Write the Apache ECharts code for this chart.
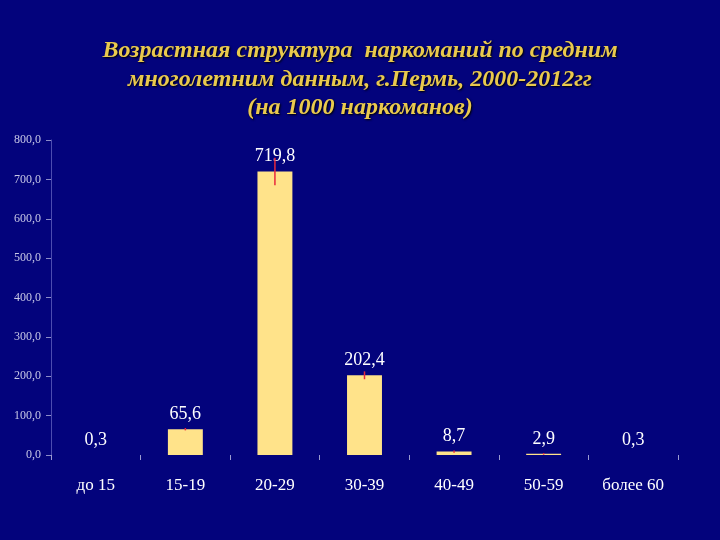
<!DOCTYPE html>
<html>
<head>
<meta charset="utf-8">
<script src="https://cdn.jsdelivr.net/npm/echarts@6/dist/echarts.min.js"></script>
<style>
  html, body { margin: 0; padding: 0; background: #03037c; }
  #chart { width: 720px; height: 540px; }
</style>
</head>
<body>
<div id="chart"></div>
<script>
// age groups and values per 1000 addicts
const categories = ['до 15', '15-19', '20-29', '30-39', '40-49', '50-59', 'более 60'];
const values = [0.3, 65.6, 719.8, 202.4, 8.7, 2.9, 0.3];
// error bar half-widths, estimated from the red marks
const errors = [0, 3, 35, 10, 3, 2, 0];
const titleLines = [
  'Возрастная структура  наркоманий по средним',
  'многолетним данным, г.Пермь, 2000-2012гг',
  '(на 1000 наркоманов)'
];

const fmt = v => v.toFixed(1).replace('.', ',');

const chart = echarts.init(document.getElementById('chart'));

chart.setOption({
  backgroundColor: '#03037c',
  animation: false,
  title: {
    text: titleLines.join('\n'),
    left: 'center',
    top: 32,
    textStyle: {
      fontFamily: 'Liberation Serif',
      fontStyle: 'italic',
      fontWeight: 'bold',
      fontSize: 24,
      lineHeight: 28.5,
      color: '#e9c94e',
      textShadowColor: '#000',
      textShadowBlur: 2,
      textShadowOffsetX: 1,
      textShadowOffsetY: 1
    }
  },
  grid: { left: 51, right: 42, top: 140, bottom: 85 },
  xAxis: {
    type: 'category',
    data: categories,
    axisLine: { show: false },
    axisTick: { show: true, length: 5, lineStyle: { color: '#9a9ad0' } },
    axisLabel: {
      fontFamily: 'Liberation Serif',
      fontSize: 17,
      color: '#ffffff',
      margin: 22
    }
  },
  yAxis: {
    type: 'value',
    min: 0,
    max: 800,
    interval: 100,
    splitLine: { show: false },
    axisLine: { show: true, lineStyle: { color: '#4c4cb0' } },
    axisTick: { show: true, length: 5, lineStyle: { color: '#8c8cc8' } },
    axisLabel: {
      fontFamily: 'Liberation Serif',
      fontSize: 12,
      color: '#c8c8e6',
      margin: 10,
      formatter: v => fmt(v)
    }
  },
  series: [
    {
      type: 'bar',
      data: values,
      barWidth: '39%',
      itemStyle: { color: '#ffe38a' },
      label: {
        show: true,
        position: 'top',
        distance: 6,
        fontFamily: 'Liberation Serif',
        fontSize: 18,
        color: '#ffffff',
        formatter: p => fmt(p.value)
      }
    },
    {
      type: 'custom',
      data: values.map((v, i) => [i, v - errors[i], v + errors[i]]),
      z: 5,
      renderItem: (params, api) => {
        const lo = api.coord([api.value(0), api.value(1)]);
        const hi = api.coord([api.value(0), api.value(2)]);
        if (hi[1] === lo[1]) return null;
        return {
          type: 'line',
          shape: { x1: lo[0], y1: lo[1], x2: hi[0], y2: hi[1] },
          style: { stroke: '#e8283c', lineWidth: 1.5 }
        };
      }
    }
  ]
});
</script>
</body>
</html>
